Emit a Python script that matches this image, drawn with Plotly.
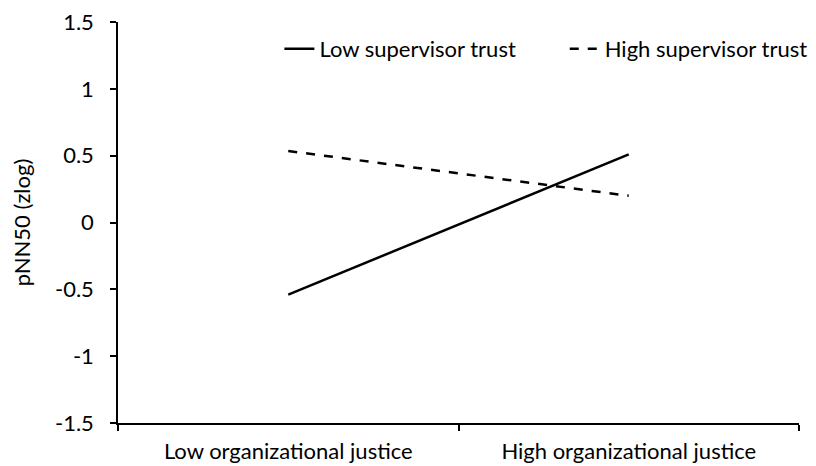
import plotly.graph_objects as go

categories = ["Low organizational justice", "High organizational justice"]
low_trust = [-0.54, 0.51]
high_trust = [0.535, 0.20]
y_ticks = [-1.5, -1, -0.5, 0, 0.5, 1, 1.5]
y_tick_labels = ["-1.5", "-1", "-0.5", "0", "0.5", "1", "1.5"]

font_family = "Lato, Open Sans, sans-serif"
FS = 22

fig = go.Figure()
fig.add_trace(go.Scatter(x=categories, y=low_trust, mode="lines", name="Low supervisor trust",
                         line=dict(color="black", width=2.5), legend="legend"))
fig.add_trace(go.Scatter(x=categories, y=high_trust, mode="lines", name="High supervisor trust",
                         line=dict(color="black", width=2.5, dash="dash"), legend="legend2"))

legend_common = dict(orientation="h", xanchor="left", yanchor="middle",
                     font=dict(size=FS), bgcolor="rgba(0,0,0,0)", itemwidth=30)

fig.update_layout(
    width=816, height=466,
    margin=dict(l=110, r=11, t=14, b=51),
    paper_bgcolor="white", plot_bgcolor="white",
    font=dict(family=font_family, size=FS, color="black"),
    showlegend=True,
    legend=dict(x=0.237, y=0.933, **legend_common),
    legend2=dict(x=0.656, y=0.933, **legend_common),
    xaxis=dict(type="category", range=[-0.5, 1.5], showline=True, linecolor="black", linewidth=1.5,
               ticks="outside", tickson="boundaries", ticklen=6, tickcolor="black", tickwidth=1.5,
               showgrid=False, zeroline=False, tickfont=dict(size=FS), ticklabelstandoff=8,
               automargin=False, ticklabeloverflow="allow"),
    yaxis=dict(range=[-1.5, 1.5], tickvals=y_ticks, ticktext=y_tick_labels,
               showline=True, linecolor="black", linewidth=1.5,
               ticks="outside", ticklen=6, tickcolor="black", tickwidth=1.5,
               showgrid=False, zeroline=False, tickfont=dict(size=FS), ticklabelstandoff=12,
               automargin=False, ticklabeloverflow="allow",
               title=dict(text="pNN50 (zlog)", font=dict(size=FS), standoff=19)),
)

fig.write_html("out.html")
